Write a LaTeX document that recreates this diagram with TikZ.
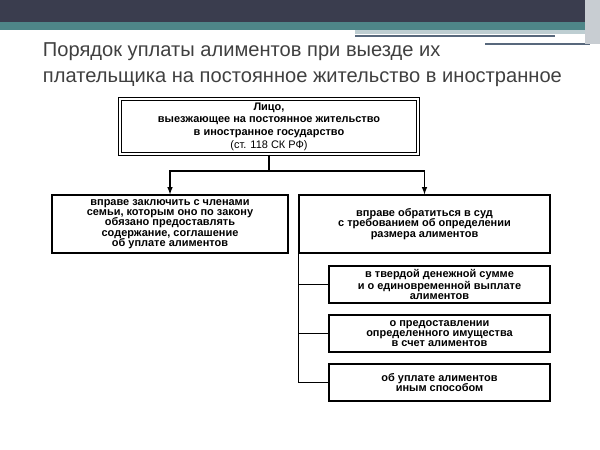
\documentclass[tikz,border=0pt]{standalone}
\usepackage{fontspec}
\setmainfont{Liberation Sans}
\usetikzlibrary{positioning}
\usetikzlibrary{calc}
\definecolor{headdark}{RGB}{58,61,78}
\definecolor{headteal}{RGB}{78,134,136}
\definecolor{headlight}{RGB}{190,206,210}
\definecolor{headline}{RGB}{88,104,124}
\definecolor{headside}{RGB}{200,205,210}

\begin{document}
\begin{tikzpicture}[
x=0.025cm, y=-0.025cm,
boxnode/.style={rectangle, draw=black, line width=0.9pt, align=center, anchor=center,
font=\fontsize{7.8}{7.4}\selectfont\bfseries, inner sep=1pt},
mainnode/.style={boxnode, double, double distance=1.3pt, line width=0.9pt,
font=\fontsize{7.8}{9}\selectfont\bfseries},
textnode/.style={anchor=west, font=\fontsize{14.3}{16}\selectfont, text=black!75}
]
\useasboundingbox (0,0) rectangle (600,449);

%Header
\fill[headdark] (0,0) rectangle (600,22);
\fill[headteal] (0,22) rectangle (600,30);
\fill[headlight] (355,30) rectangle (600,34);
\draw[line width=1pt, headline] (355,36) -- (555,36);
\draw[line width=1.5pt, headline] (485,44) -- (590,44);
\fill[headside] (585,0) rectangle (600,44);

%Title
\node[textnode] (title1) at (38,52) {Порядок уплаты алиментов при выезде их};
\node[textnode] (title2) at (38,79) {плательщика на постоянное жительство в иностранное};

%Nodes
\node[mainnode, minimum width=7.45cm, minimum height=1.38cm] (person) at (269,126.5)
{Лицо,\\выезжающее на постоянное жительство\\в иностранное государство\\{\mdseries (ст. 118 СК РФ)}};
\node[boxnode, minimum width=5.9cm, minimum height=1.45cm] (agree) at (170,224)
{вправе заключить с членами\\семьи, которым оно по закону\\обязано предоставлять\\содержание, соглашение\\об уплате алиментов};
\node[boxnode, minimum width=6.275cm, minimum height=1.45cm] (court) at (424.5,224)
{вправе обратиться в суд\\с требованием об определении\\размера алиментов};
\node[boxnode, minimum width=5.525cm, minimum height=0.925cm] (sum) at (439.5,284.5)
{в твердой денежной сумме\\и о единовременной выплате\\алиментов};
\node[boxnode, minimum width=5.525cm, minimum height=0.925cm] (property) at (439.5,333.5)
{о предоставлении\\определенного имущества\\в счет алиментов};
\node[boxnode, minimum width=5.525cm, minimum height=0.925cm] (other) at (439.5,382.5)
{об уплате алиментов\\иным способом};

%Coordinates
\coordinate (fork) at (person.south |- 0,171);
\coordinate (spine) at (court.south west);

%Lines
\draw[thick] (person.south) -- (fork);
\draw[thick, -latex] (fork) -| (agree.north);
\draw[thick, -latex] (fork) -| (court.north);
\draw[thick] (spine) |- (other.west);
\draw[thick] (spine |- sum.west) -- (sum.west);
\draw[thick] (spine |- property.west) -- (property.west);

\end{tikzpicture}
\end{document}
